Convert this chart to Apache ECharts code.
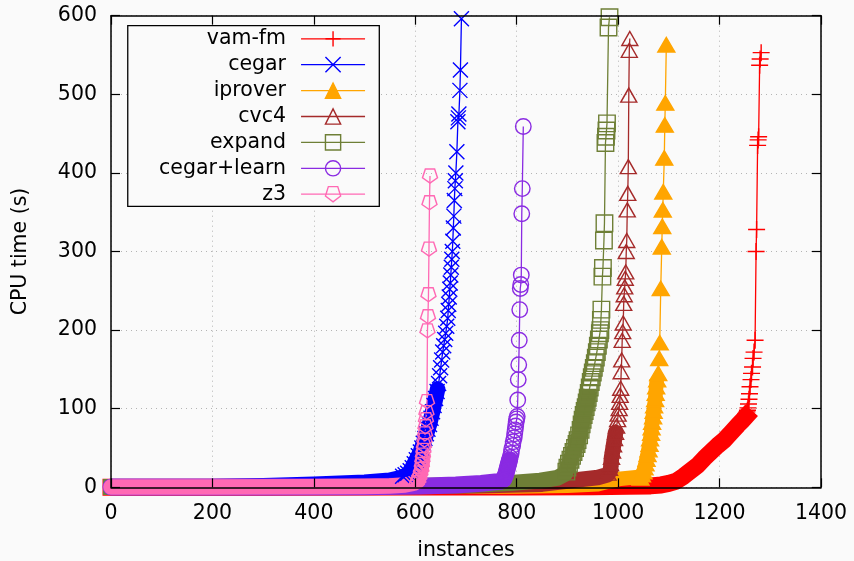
<!DOCTYPE html>
<html lang="en">
<head>
<meta charset="UTF-8">
<title>cactus plot</title>
<script src="https://cdn.jsdelivr.net/npm/echarts@6/dist/echarts.min.js"></script>
<style>
  html, body { margin: 0; padding: 0; background: #fafafa; }
  #main { width: 854px; height: 561px; }
</style>
</head>
<body>
<div id="main"></div>
<script>
// solvers in plotting order (later ones are drawn on top)
var solvers = ['vam-fm', 'cegar', 'iprover', 'cvc4', 'expand', 'cegar+learn', 'z3'];

// [instances solved, CPU time (s)]
// *Band: part where the markers pile up into a solid stroke
// *Pts: the part where single markers can still be told apart
var vamfmBand = [[0,0.2],[300,0.2],[600,0.3],[800,0.5],[950,0.8],[1020,1.2],[1064,1.8],[1085,3],[1100,5],[1115,8],[1129,14],[1143,21],[1157,28],[1170,37],[1183,45],[1196,53],[1209,60],[1222,69],[1236,79],[1245,85],[1252,90]];
var vamfmPts = [[1240,82],[1244,85],[1247,88],[1250,91],[1252,94],[1254,96],[1255,98],[1256,101],[1257,106],[1258,112],[1259,119],[1260,128],[1262,137],[1263,145],[1265,153],[1266,164],[1268,172],[1270,187],[1272,300],[1273,328],[1275,435],[1276,442],[1277,446],[1279,537],[1280,545],[1282,553]];

var cegarBand = [[0,0],[200,0.8],[300,2],[400,4],[500,6.5],[549,9],[570,12],[585,16],[594,25],[602,35],[610,45],[616,56],[622,68],[628,80],[634,96],[640,113],[644,125]];
var cegarPts = [[575,14],[580,16],[585,18],[590,21],[594,25],[598,30],[602,35],[606,40],[610,45],[613,50],[616,56],[619,62],[622,68],[625,74],[628,80],[631,88],[634,96],[637,104],[640,113],[643,122],[646,132],[648,142],[650,152],[652,162],[654,172],[656,180],[658,188],[660,196],[662,205],[664,215],[665,225],[666,233],[667,242],[668,252],[669,260],[670,270],[671,280],[672,290],[673,300],[674,313],[675,330],[676,345],[677,365],[678,380],[679,390],[680,400],[682,427],[684,465],[685,470],[686,475],[688,505],[689,531],[691,596]];

var iproverBand = [[0,0.2],[500,0.3],[800,1],[900,2],[960,4],[985,8],[1005,11],[1040,13],[1046,16],[1050,20],[1054,30],[1058,42],[1062,55],[1065,69],[1067,83],[1070,97],[1073,112],[1075,128]];
var iproverPts = [[1044,12],[1047,16],[1050,20],[1052,25],[1054,30],[1056,36],[1058,42],[1060,48],[1062,55],[1063,62],[1065,69],[1066,76],[1067,83],[1069,90],[1070,97],[1071,104],[1073,112],[1074,120],[1075,128],[1077,137],[1079,145],[1081,164],[1082,184],[1084,253],[1086,306],[1087,332],[1088,353],[1089,376],[1091,419],[1092,461],[1093,489],[1095,563]];

var cvc4Band = [[0,0.3],[500,0.5],[700,1.5],[850,4],[925,10],[960,12.5],[979,16],[985,22],[987,38],[991,54],[995,70]];
var cvc4Pts = [[980,18],[983,24],[985,30],[987,38],[989,46],[991,54],[993,62],[995,70],[997,78],[999,86],[1000,93],[1002,100],[1003,108],[1004,117],[1005,126],[1006,147],[1007,162],[1008,187],[1009,198],[1010,209],[1011,234],[1012,245],[1013,255],[1014,266],[1015,274],[1016,300],[1017,314],[1018,353],[1019,374],[1020,408],[1021,499],[1022,556],[1023,571]];

var expandBand = [[0,0.3],[400,0.5],[600,1.5],[700,3],[788,5.5],[846,8.5],[880,12],[895,17],[900,25],[906,35],[912,45],[918,55],[923,66],[928,80],[932,92],[936,102],[940,114]];
var expandPts = [[898,20],[900,25],[903,30],[906,35],[909,40],[912,45],[915,50],[918,55],[920,60],[923,66],[926,73],[928,80],[930,86],[932,92],[934,97],[936,102],[938,108],[940,114],[942,120],[944,127],[946,134],[948,140],[950,146],[952,152],[954,158],[956,165],[958,172],[960,180],[962,188],[964,196],[965,200],[966,213],[967,226],[969,268],[970,279],[972,314],[973,336],[975,438],[976,446],[977,454],[978,463],[981,585],[983,598]];

var learnBand = [[0,0.3],[300,0.5],[500,0.8],[609,1.5],[680,3],[730,5],[767,7.5],[775,11],[779,18],[783,28],[786,35]];
var learnPts = [[774,10],[777,14],[779,18],[781,23],[783,28],[785,33],[787,38],[789,43],[790,48],[792,53],[793,58],[795,63],[796,68],[797,73],[798,78],[799,83],[800,87],[801,90],[802,111],[803,137],[804,156],[805,187],[806,226],[807,253],[808,258],[809,270],[810,348],[811,380],[813,459]];

var z3Band = [[0,0.5],[200,0.5],[400,0.7],[500,1],[549,1.7],[580,3],[595,5],[605,8],[610,18],[613,29],[615,40]];
var z3Pts = [[603,6],[606,9],[608,13],[610,18],[612,23],[613,29],[614,35],[615,41],[616,47],[617,53],[618,60],[619,68],[620,77],[621,86],[622,95],[623,109],[624,199],[625,217],[626,245],[627,303],[628,362],[629,396]];

var bands = [vamfmBand, cegarBand, iproverBand, cvc4Band, expandBand, learnBand, z3Band];
var points = [vamfmPts, cegarPts, iproverPts, cvc4Pts, expandPts, learnPts, z3Pts];

// look of each solver (gnuplot-ish point types)
var PLUS = 'path://M0,5L10,5M5,0L5,10';
var CROSS = 'path://M0,0L10,10M10,0L0,10';
var PENTA = 'path://M2.06,0.95L7.94,0.95L9.76,6.55L5,10L0.24,6.55Z';
var looks = [
    {color: '#ff0000', symbol: PLUS, size: 17, filled: false, band: 17, cap: 'square'},
    {color: '#0000ff', symbol: CROSS, size: 15, filled: false, band: 15.5, cap: 'round'},
    {color: '#ffa500', symbol: 'triangle', size: [17, 14.5], filled: true, band: 14.5, cap: 'square'},
    {color: '#a52a2a', symbol: 'triangle', size: [16, 14], filled: false, band: 15.5, cap: 'round'},
    {color: '#6e7f36', symbol: 'rect', size: 16.5, filled: false, band: 16, cap: 'square'},
    {color: '#8a2be2', symbol: 'circle', size: 15.5, filled: false, band: 17, cap: 'round'},
    {color: '#ff69b4', symbol: PENTA, size: [15, 14], filled: false, band: 15.5, cap: 'round'}
];

var font = 'DejaVu Sans';
var fontSize = 20.5;

var series = [];
solvers.forEach(function (name, i) {
    var lk = looks[i];
    series.push({
        name: name + ' dense',
        type: 'line',
        data: bands[i],
        symbol: 'none',
        clip: false,
        silent: true,
        lineStyle: {color: lk.color, width: lk.band, cap: lk.cap, join: 'round'},
        itemStyle: {color: lk.color}
    });
    series.push({
        name: name,
        type: 'line',
        data: points[i],
        clip: false,
        symbol: lk.symbol,
        symbolSize: lk.size,
        showSymbol: true,
        showAllSymbol: true,
        lineStyle: {color: lk.color, width: 1.3},
        itemStyle: {
            color: lk.filled ? lk.color : 'none',
            borderColor: lk.color,
            borderWidth: 1.4
        }
    });
});

var box = {left: 111, right: 33, top: 15.7, bottom: 73.7, containLabel: false, outerBoundsMode: 'none'};
var frameLine = {show: true, onZero: false, lineStyle: {color: '#000', width: 1.5}};
var frameTick = {show: true, inside: true, length: 9, lineStyle: {color: '#000', width: 1.2}};
var dotted = {show: true, lineStyle: {color: '#b4b4b4', width: 1, type: [1, 4]}};
var labelStyle = {fontFamily: font, fontSize: fontSize, color: '#000'};
var plain = function (v) { return String(v); };

var myChart = echarts.init(document.getElementById('main'));
var option = {
    animation: false,
    backgroundColor: '#fafafa',
    grid: [Object.assign({}, box), Object.assign({}, box)],
    xAxis: [
        // grid lines only, kept under the data
        {gridIndex: 0, type: 'value', min: 0, max: 1400, interval: 200, position: 'bottom',
         axisLine: {show: false}, axisTick: {show: false}, axisLabel: {show: false},
         splitLine: dotted, z: 0},
        // frame, ticks and labels on top
        {gridIndex: 1, type: 'value', min: 0, max: 1400, interval: 200, position: 'bottom',
         axisLine: frameLine, axisTick: frameTick,
         axisLabel: Object.assign({margin: 16, formatter: plain, showMinLabel: true, showMaxLabel: true}, labelStyle),
         splitLine: {show: false},
         name: 'instances', nameLocation: 'middle', nameGap: 53,
         nameTextStyle: labelStyle, z: 10},
        {gridIndex: 1, type: 'value', min: 0, max: 1400, interval: 200, position: 'top',
         axisLine: frameLine, axisTick: frameTick, axisLabel: {show: false},
         splitLine: {show: false}, z: 10}
    ],
    yAxis: [
        {gridIndex: 0, type: 'value', min: 0, max: 600, interval: 100, position: 'left',
         axisLine: {show: false}, axisTick: {show: false}, axisLabel: {show: false},
         splitLine: dotted, z: 0},
        {gridIndex: 1, type: 'value', min: 0, max: 600, interval: 100, position: 'left',
         axisLine: frameLine, axisTick: frameTick,
         axisLabel: Object.assign({margin: 14, formatter: plain, showMinLabel: true, showMaxLabel: true}, labelStyle),
         splitLine: {show: false},
         name: 'CPU time (s)', nameLocation: 'middle', nameGap: 80,
         nameTextStyle: labelStyle, z: 10},
        {gridIndex: 1, type: 'value', min: 0, max: 600, interval: 100, position: 'right',
         axisLine: frameLine, axisTick: frameTick, axisLabel: {show: false},
         splitLine: {show: false}, z: 10}
    ],
    legend: {
        data: solvers,
        orient: 'vertical',
        align: 'right',
        right: 474.7,
        top: 25.7,
        padding: [2.6, 13.6, 1.6, 31.3],
        itemWidth: 64,
        itemHeight: 19,
        itemGap: 4.9,
        borderColor: '#000',
        borderWidth: 1.3,
        backgroundColor: '#fafafa',
        selectedMode: false,
        lineStyle: {width: 1.3},
        itemStyle: {borderWidth: 1.4},
        textStyle: {fontFamily: font, fontSize: fontSize, color: '#000', lineHeight: 20, padding: [0, 10, 0, 0]}
    },
    series: series
};
myChart.setOption(option);
</script>
</body>
</html>
